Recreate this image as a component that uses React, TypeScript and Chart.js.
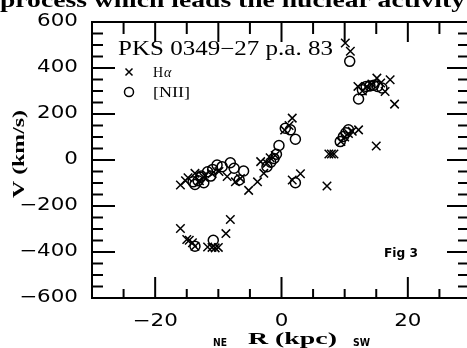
import React, { useEffect, useRef } from "react";
import { Chart, registerables } from "chart.js";
Chart.register(...registerables);

// ---- data ----
const haR = [-16.0, -15.2, -14.8, -13.7, -13.0, -12.3, -11.0, -9.9, -8.6, -7.3, -6.5, -5.2, -3.8, -3.3, -2.8, -2.3, -1.8, -1.0, 0.5, 1.2, 1.7, 1.7, 3.0, 7.2, 7.5, 7.9, 8.3, 9.4, 10.0, 10.6, 11.2, 12.2, 10.1, 10.9, 12.1, 12.8, 13.5, 14.3, 15.1, 15.7, 16.4, 17.2, 17.9, 15.0, -16.0, -15.0, -14.6, -14.1, -13.7, -11.7, -11.0, -10.5, -10.0, -8.8, -8.1];
const haV = [-109, -90, -77, -58, -90, -75, -60, -50, -72, -95, -80, -132, -95, -7, -58, -14, 10, 20, 130, 150, 182, -87, -60, -113, 26, 26, 26, 80, 100, 115, 125, 131, 509, 473, 320, 300, 320, 330, 356, 335, 298, 349, 243, 61, -298, -346, -349, -360, -375, -378, -380, -382, -380, -320, -259];
const niiR = [-14.0, -13.7, -13.2, -12.8, -12.7, -12.3, -11.7, -11.2, -10.9, -10.2, -9.4, -8.1, -7.5, -6.7, -6.0, -2.3, -1.7, -1.2, -0.8, -0.4, 0.6, 1.4, 2.2, 2.2, 9.3, 9.8, 10.2, 10.6, 10.8, 12.2, 12.8, 13.4, 14.0, 14.6, 15.2, 15.9, -13.7, -10.8];
const niiV = [-95, -106, -90, -75, -70, -99, -51, -70, -41, -22, -29, -12, -36, -87, -48, -29, -10, 7, 25, 63, 138, 131, 90, -99, 80, 102, 118, 131, 429, 265, 305, 320, 322, 325, 320, 313, -375, -349];

const seriesLabels = ["H", "[NII]"];
const xRange = [-30, 30];
const yRange = [-600, 600];
const xTickLabels = [-20, 0, 20];
const yTickLabels = [600, 400, 200, 0, -200, -400, -600];
const xMinorStep = 5;
const yMinorStep = 50;
const xBottomMajor = [-20, 0, 20];
const xTopMajor = [-20, -10, 0, 10, 20];
const yMajorStep = 200;

const titleText = "PKS 0349\u221227 p.a. 83";
const yTitle = "V (km/s)";
const xTitle = "R (kpc)";
const xTitleLeft = "NE";
const xTitleRight = "SW";
const figLabel = "Fig 3";
const headerText = "process which leads the nuclear activity";

const fmt = (v: number) => (v < 0 ? "\u2212" + Math.abs(v) : String(v));

function drawFit(ctx: CanvasRenderingContext2D, text: string, x: number, y: number, font: string, width: number, baseline: CanvasTextBaseline = "alphabetic", rot = 0) {
  ctx.save();
  ctx.font = font;
  const w = ctx.measureText(text).width;
  ctx.translate(x, y);
  if (rot) ctx.rotate(rot);
  ctx.scale(width / w, 1);
  ctx.textAlign = "left";
  ctx.textBaseline = baseline;
  ctx.fillText(text, 0, 0);
  ctx.restore();
}

function drawScaled(ctx: CanvasRenderingContext2D, text: string, x: number, y: number, font: string, sx: number, align: CanvasTextAlign) {
  ctx.save();
  ctx.translate(x, y);
  ctx.scale(sx, 1);
  ctx.font = font;
  ctx.textAlign = align;
  ctx.textBaseline = "middle";
  ctx.fillText(text, 0, 0);
  ctx.restore();
}

const framePlugin = {
  id: "framePlugin",
  afterDraw(chart: any) {
    const ctx: CanvasRenderingContext2D = chart.ctx;
    const xs = chart.scales.x;
    const ys = chart.scales.y;
    const { left, right, top, bottom } = chart.chartArea;
    ctx.save();
    ctx.fillStyle = "#000";
    ctx.strokeStyle = "#000";
    ctx.lineWidth = 2;
    ctx.strokeRect(left, top, right - left, bottom - top);

    const line = (x1: number, y1: number, x2: number, y2: number) => {
      ctx.beginPath();
      ctx.moveTo(x1, y1);
      ctx.lineTo(x2, y2);
      ctx.stroke();
    };
    for (let v = xRange[0] + xMinorStep; v < xRange[1]; v += xMinorStep) {
      const px = xs.getPixelForValue(v);
      const lb = xBottomMajor.includes(v) ? 21 : 9;
      const lt = xTopMajor.includes(v) ? 20 : 12;
      line(px, bottom, px, bottom - lb);
      line(px, top, px, top + lt);
    }
    for (let v = yRange[0] + yMinorStep; v < yRange[1]; v += yMinorStep) {
      const py = ys.getPixelForValue(v);
      const major = v % yMajorStep === 0;
      line(left, py, left + (major ? 23 : 11), py);
      line(right, py, right - (major ? 24 : 13), py);
    }

    const numFont = "17px 'DejaVu Sans'";
    for (const v of yTickLabels) {
      drawScaled(ctx, fmt(v), 78, ys.getPixelForValue(v), numFont, 1.26, "right");
    }
    for (const v of xTickLabels) {
      drawScaled(ctx, fmt(v), xs.getPixelForValue(v), 322, numFont, 1.26, "center");
    }

    // header fragment of the page text
    drawFit(ctx, headerText, 0, 7, "bold 22px 'Liberation Serif'", 465);

    // title & legend
    drawFit(ctx, titleText, 118, 55, "20px 'Liberation Serif'", 215);
    const ds = chart.data.datasets;
    ctx.lineWidth = 1.5;
    (Chart as any).helpers?.drawPoint;
    const drawMarker = (style: string, x: number, y: number, r: number) => {
      ctx.beginPath();
      if (style === "circle") {
        ctx.arc(x, y, r, 0, Math.PI * 2);
      } else {
        ctx.moveTo(x - r, y - r); ctx.lineTo(x + r, y + r);
        ctx.moveTo(x + r, y - r); ctx.lineTo(x - r, y + r);
      }
      ctx.stroke();
    };
    drawMarker(ds[0].pointStyle, 129, 72, 3.5);
    drawMarker(ds[1].pointStyle, 129, 92, 4.5);
    ctx.textBaseline = "alphabetic";
    ctx.textAlign = "left";
    ctx.font = "14px 'Liberation Serif'";
    ctx.fillText(ds[0].label, 153, 77);
    const hw = ctx.measureText(ds[0].label).width;
    ctx.font = "italic 14px 'Liberation Serif'";
    ctx.fillText("\u03b1", 153 + hw + 1, 77);
    ctx.font = "14px 'Liberation Serif'";
    drawFit(ctx, ds[1].label, 153, 97, "14px 'Liberation Serif'", 37);

    // axis titles
    drawFit(ctx, yTitle, 24, 198, "bold 17px 'Liberation Serif'", 88, "alphabetic", -Math.PI / 2);
    drawFit(ctx, xTitle, 248, 344, "bold 17px 'Liberation Serif'", 89);
    drawFit(ctx, xTitleLeft, 213, 346, "bold 10px 'DejaVu Sans'", 14);
    drawFit(ctx, xTitleRight, 353, 346, "bold 10px 'DejaVu Sans'", 17);
    drawFit(ctx, figLabel, 384, 257, "bold 12px 'DejaVu Sans'", 34);
    ctx.restore();
  },
};

export default function App() {
  const ref = useRef<HTMLCanvasElement>(null);
  useEffect(() => {
    if (!ref.current) return;
    const chart = new Chart(ref.current, {
      type: "scatter",
      data: {
        datasets: [
          {
            label: seriesLabels[0],
            data: haR.map((r, i) => ({ x: r, y: haV[i] })),
            pointStyle: "crossRot",
            pointRadius: 6,
            borderColor: "#000",
            backgroundColor: "rgba(0,0,0,0)",
            pointBorderWidth: 1.5,
          },
          {
            label: seriesLabels[1],
            data: niiR.map((r, i) => ({ x: r, y: niiV[i] })),
            pointStyle: "circle",
            pointRadius: 5,
            borderColor: "#000",
            backgroundColor: "rgba(0,0,0,0)",
            pointBorderWidth: 1.5,
          },
        ],
      },
      options: {
        animation: false,
        responsive: false,
        layout: { padding: { left: 92, right: 9, top: 22, bottom: 50 } },
        plugins: { legend: { display: false }, tooltip: { enabled: false } },
        scales: {
          x: { type: "linear", min: xRange[0], max: xRange[1], display: false },
          y: { type: "linear", min: yRange[0], max: yRange[1], display: false },
        },
      },
      plugins: [framePlugin],
    });
    return () => chart.destroy();
  }, []);
  return (
    <div style={{ position: "fixed", left: 0, top: 0, width: 467, height: 348, overflow: "hidden", background: "#fff" }}>
      <canvas ref={ref} width={480} height={348} style={{ display: "block" }} />
    </div>
  );
}
